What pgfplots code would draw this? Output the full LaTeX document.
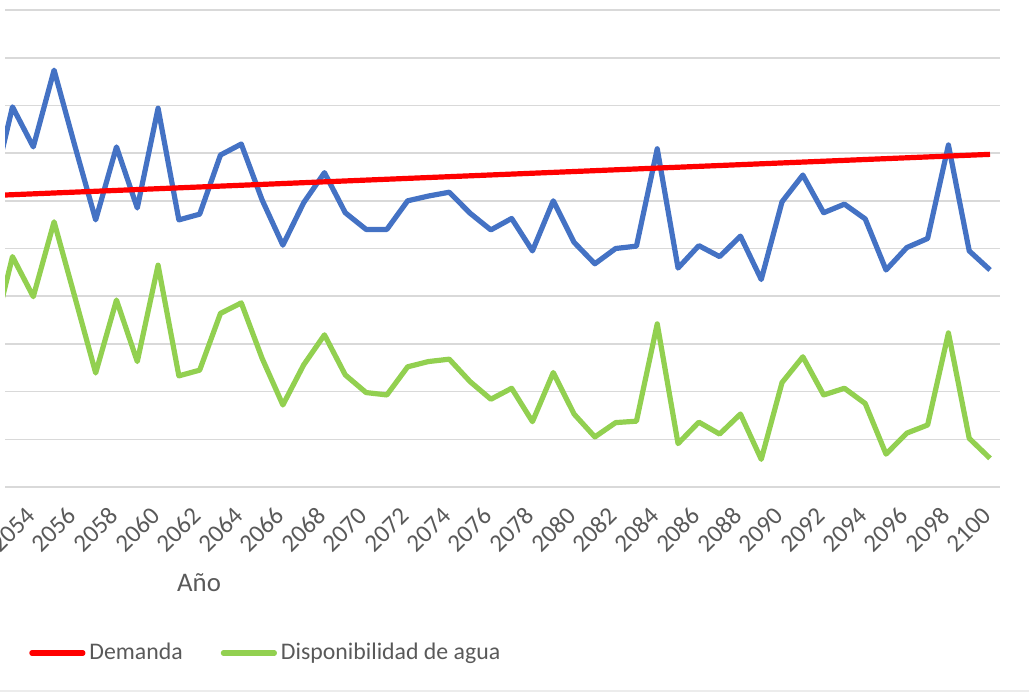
\documentclass[border=0pt]{standalone}
\usepackage{fontspec}
\setmainfont{Carlito}
\usepackage{pgfplots}
\usepackage{pgfplotstable}
\pgfplotsset{compat=1.18}

\definecolor{azul}{HTML}{4472C4}
\definecolor{rojo}{HTML}{FF0000}
\definecolor{verde}{HTML}{92D050}
\definecolor{rejilla}{HTML}{D9D9D9}
\definecolor{texto}{HTML}{595959}

% anio: year, oferta: unlabelled blue series, demanda, disp = disponibilidad de agua
\pgfplotstableread{
anio oferta demanda disp
2052 6.12 6.110 3.04
2053 7.97 6.128 4.83
2054 7.13 6.146 3.99
2055 8.74 6.164 5.56
2056 7.15 6.182 3.98
2057 5.60 6.200 2.39
2058 7.13 6.218 3.92
2059 5.85 6.236 2.63
2060 7.94 6.254 4.65
2061 5.60 6.272 2.33
2062 5.72 6.290 2.45
2063 6.96 6.308 3.64
2064 7.19 6.326 3.86
2065 6.02 6.344 2.70
2066 5.07 6.362 1.72
2067 5.96 6.380 2.56
2068 6.59 6.398 3.19
2069 5.75 6.416 2.35
2070 5.40 6.434 1.98
2071 5.40 6.452 1.93
2072 6.00 6.470 2.52
2073 6.10 6.488 2.63
2074 6.18 6.506 2.68
2075 5.74 6.524 2.21
2076 5.39 6.542 1.84
2077 5.63 6.560 2.07
2078 4.95 6.578 1.37
2079 6.00 6.596 2.40
2080 5.13 6.614 1.53
2081 4.68 6.632 1.05
2082 5.00 6.650 1.35
2083 5.05 6.668 1.38
2084 7.09 6.686 3.42
2085 4.59 6.704 0.91
2086 5.06 6.722 1.36
2087 4.83 6.740 1.11
2088 5.26 6.758 1.53
2089 4.35 6.776 0.58
2090 5.98 6.794 2.19
2091 6.54 6.812 2.73
2092 5.75 6.830 1.93
2093 5.93 6.848 2.07
2094 5.62 6.866 1.75
2095 4.55 6.884 0.69
2096 5.02 6.902 1.13
2097 5.21 6.920 1.30
2098 7.17 6.938 3.23
2099 4.95 6.956 1.02
2100 4.55 6.974 0.60
}\datos

\begin{document}
\begin{tikzpicture}
\useasboundingbox (-2.5pt,-102.5pt) rectangle (512pt,243.5pt);
\clip (-2.5pt,-102.5pt) rectangle (512pt,243.5pt);
\draw[color=rejilla!50, line width=0.8pt] (-2.5pt,-102pt) -- (512pt,-102pt);
\begin{axis}[
  scale only axis,
  width=497.5pt, height=238.5pt,
  xmin=2052.64, xmax=2100.48,
  ymin=0, ymax=10,
  xtick={2054,2056,...,2100},
  ytick={0,1,...,10},
  yticklabel=\empty,
  axis line style={draw=none},
  major tick length=0pt,
  ymajorgrids=true,
  grid style={color=rejilla, line width=0.8pt},
  /pgf/number format/1000 sep={},
  /pgf/number format/assume math mode=true,
  xticklabel style={xshift=1pt, yshift=-10pt, rotate=45, anchor=east,
    font=\fontsize{12.5}{14}\selectfont, text=texto},
  xlabel={Año},
  xlabel style={at={(0.195,0)}, anchor=base, yshift=-52.3pt,
    font=\fontsize{13.4}{16}\selectfont, text=texto},
  legend style={at={(0.024,0)}, anchor=west, yshift=-83pt,
    draw=none, fill=none, inner sep=0pt,
    font=\fontsize{11.9}{14}\selectfont, text=texto,
    /tikz/every even column/.append style={column sep=17pt}},
  legend columns=2,
  legend cell align=left,
  legend image code/.code={\draw[#1, line cap=round] (0pt,0pt) -- (25.5pt,0pt);},
  every axis plot/.append style={line width=2.6pt, line join=round, no marks},
]
\addplot[color=azul, forget plot] table[x=anio, y=oferta] {\datos};
\addplot[color=rojo] table[x=anio, y=demanda] {\datos};
\addlegendentry{Demanda}
\addplot[color=verde] table[x=anio, y=disp] {\datos};
\addlegendentry{Disponibilidad de agua}
\end{axis}
\end{tikzpicture}
\end{document}
